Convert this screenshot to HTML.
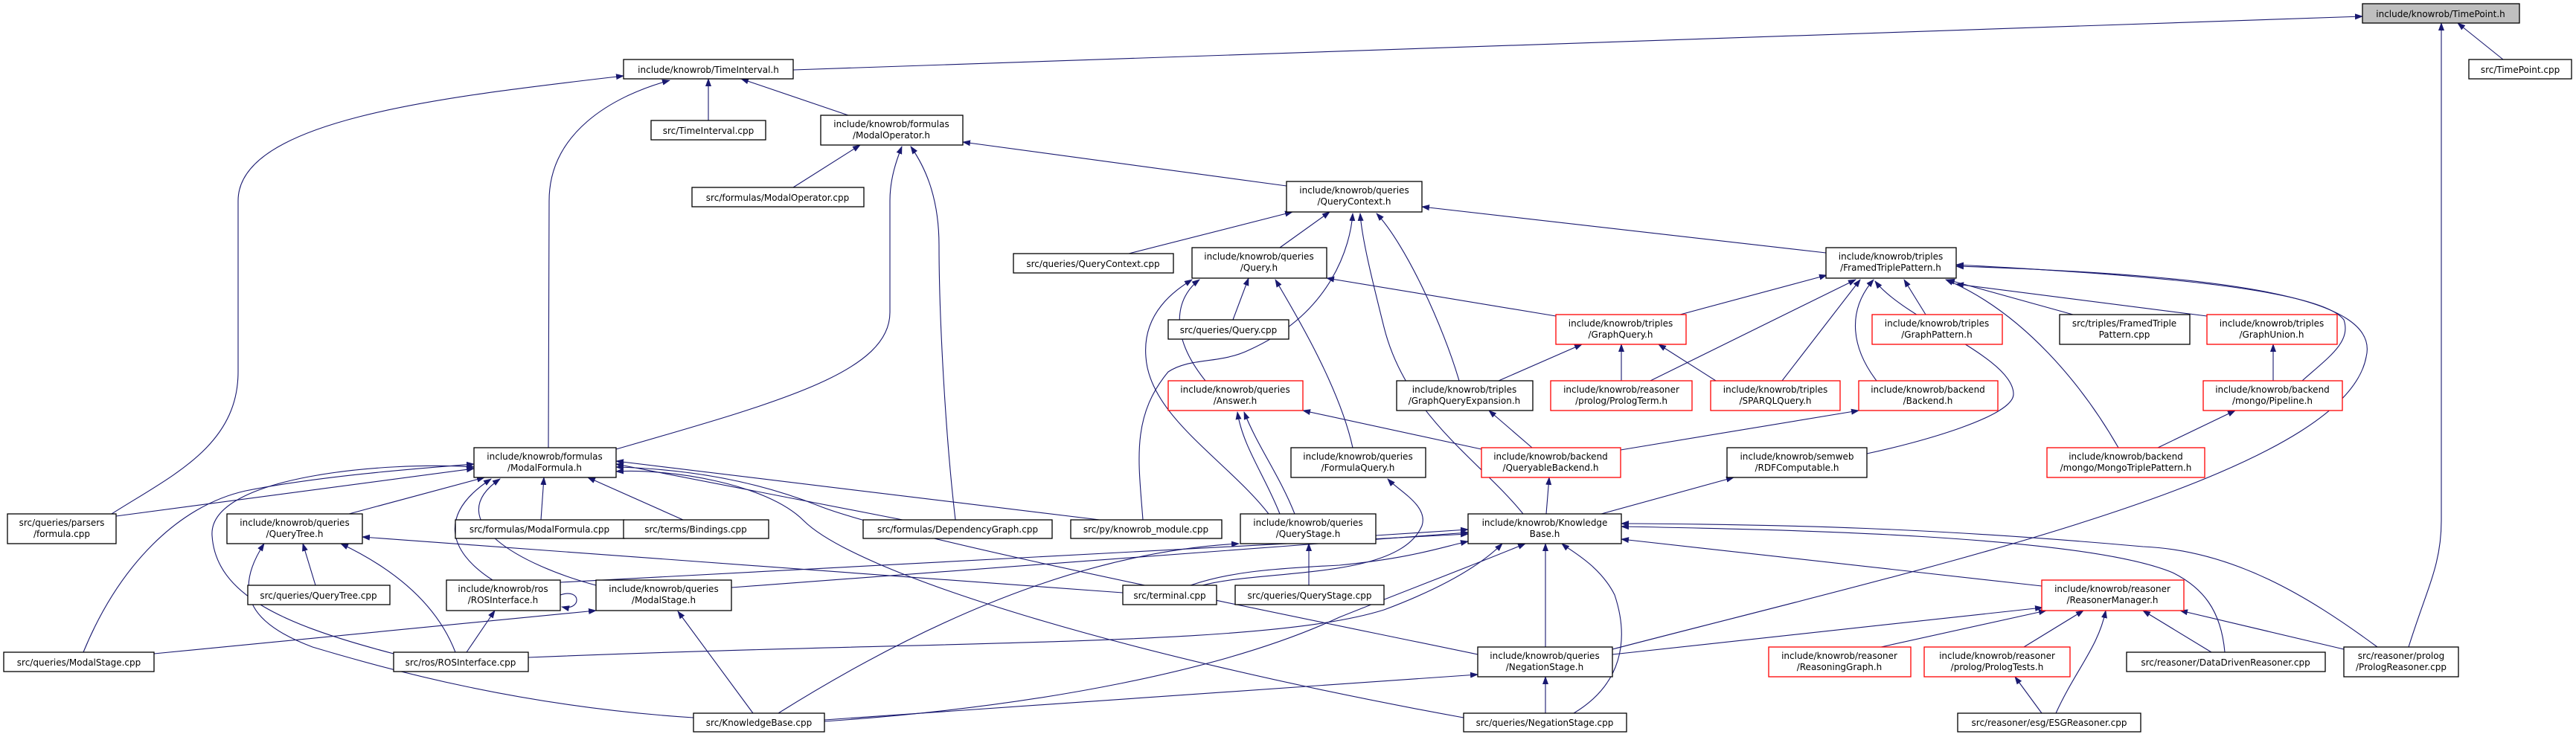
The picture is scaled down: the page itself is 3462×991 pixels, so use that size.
<!DOCTYPE html>
<html><head><meta charset="utf-8"><style>
html,body{margin:0;padding:0;background:#fff}
svg{display:block}
text{font-family:"DejaVu Sans","Liberation Sans",sans-serif;font-size:12px;fill:#000;text-anchor:middle}
.n{fill:#fff;stroke:#000;stroke-width:1.3}
.r{fill:#fff;stroke:#f00;stroke-width:1.3}
.g{fill:#bfbfbf;stroke:#000;stroke-width:1.3}
.e{fill:none;stroke:#191970;stroke-width:1.1}
</style></head><body>
<svg width="3462" height="991" viewBox="0 0 3462 991" xmlns="http://www.w3.org/2000/svg">
<defs><marker id="a" markerUnits="userSpaceOnUse" markerWidth="12" markerHeight="10" refX="10" refY="4" orient="auto"><path d="M0,0 L11,4 L0,8 z" fill="#191970"/></marker></defs>
<g class="e" marker-end="url(#a)">
<path d="M1066,94 L3175,22"/>
<path d="M3364,80 L3303,31"/>
<path d="M3237,870 C3262,790 3281,760 3281,700 L3281,31"/>
<path d="M952,162 L952,106"/>
<path d="M1140,155 L996,106"/>
<path d="M150,691 C230,640 320,600 320,500 L320,270 C320,160 600,130 838,102"/>
<path d="M737,602 L738,270 C738,180 820,130 900,108"/>
<path d="M1066,252 L1156,195"/>
<path d="M1729,250 L1294,191"/>
<path d="M828,604 C1050,540 1196,500 1196,420 L1196,270 C1196,240 1205,215 1212,197"/>
<path d="M1284,699 C1270,580 1262,420 1262,330 C1262,260 1240,220 1224,197"/>
<path d="M1517,341 L1737,285"/>
<path d="M1720,333 L1787,285"/>
<path d="M1536,699 C1530,620 1520,560 1570,500 C1600,480 1640,490 1680,470 C1790,420 1815,330 1818,287"/>
<path d="M2047,691 C1990,620 1890,560 1860,440 C1845,380 1830,320 1828,287"/>
<path d="M1961,512 C1940,440 1890,330 1850,287"/>
<path d="M2454,340 L1911,278"/>
<path d="M1657,430 L1678,374"/>
<path d="M2091,425 L1783,374"/>
<path d="M1705,691 C1650,620 1545,560 1540,480 C1535,420 1580,390 1602,376"/>
<path d="M1620,512 C1570,450 1580,400 1612,376"/>
<path d="M1818,602 C1800,520 1740,420 1714,376"/>
<path d="M2014,512 L2126,463"/>
<path d="M2179,512 L2179,463"/>
<path d="M2306,512 L2229,463"/>
<path d="M2258,423 L2455,370"/>
<path d="M2218,512 L2494,376"/>
<path d="M2395,512 L2500,376"/>
<path d="M2522,512 C2490,470 2480,420 2518,376"/>
<path d="M2588,423 L2559,376"/>
<path d="M2786,423 L2617,376"/>
<path d="M2966,425 L2629,382"/>
<path d="M3094,512 C3130,480 3160,460 3150,430 C3120,390 2900,370 2629,356"/>
<path d="M2167,873 C2600,760 3150,640 3180,480 C3200,400 3000,370 2629,358"/>
<path d="M2847,602 C2800,520 2720,420 2615,376"/>
<path d="M2509,610 C2580,595 2706,560 2706,530 C2706,480 2560,430 2520,378"/>
<path d="M3055,512 L3055,463"/>
<path d="M2900,602 L3004,552"/>
<path d="M1991,604 L1751,552"/>
<path d="M2059,602 L2001,552"/>
<path d="M2178,605 L2498,552"/>
<path d="M2078,691 L2082,642"/>
<path d="M2152,691 L2330,642"/>
<path d="M2077,870 L2077,731"/>
<path d="M2077,959 L2077,910"/>
<path d="M2115,959 C2180,920 2190,860 2170,800 C2150,760 2110,740 2099,731"/>
<path d="M2744,788 L2179,725"/>
<path d="M2990,877 C2985,820 2960,790 2920,770 C2800,720 2400,712 2179,708"/>
<path d="M3195,870 C3100,800 3000,740 2880,735 C2600,710 2400,705 2179,704"/>
<path d="M2528,870 L2750,821"/>
<path d="M2167,880 L2745,817"/>
<path d="M2720,870 L2800,821"/>
<path d="M2763,959 C2790,900 2820,870 2830,821"/>
<path d="M2972,877 L2880,821"/>
<path d="M3150,873 L2930,821"/>
<path d="M2744,959 L2708,910"/>
<path d="M983,790 L1973,716"/>
<path d="M1849,720 L1973,712"/>
<path d="M1600,787 C1650,770 1700,765 1800,760 C1900,750 1940,735 1973,728"/>
<path d="M710,884 C1300,860 1700,870 1860,820 C1940,790 1990,760 2019,731"/>
<path d="M1108,970 C1400,950 1650,900 1800,830 C1900,790 1980,760 2050,731"/>
<path d="M1108,968 L1986,907"/>
<path d="M1046,959 C1300,800 1500,740 1665,731"/>
<path d="M1012,959 L911,822"/>
<path d="M932,965 C700,950 520,900 420,870 C340,840 310,800 355,731"/>
<path d="M753,783 L1973,718"/>
<path d="M627,877 L665,821"/>
<path d="M612,877 C590,820 540,770 458,731"/>
<path d="M529,879 C380,840 290,800 285,720 C280,640 520,620 637,628"/>
<path d="M424,787 L407,731"/>
<path d="M1509,797 L487,722"/>
<path d="M469,691 L651,642"/>
<path d="M156,694 L637,630"/>
<path d="M112,877 C160,760 240,680 330,660 C430,640 560,630 637,624"/>
<path d="M662,780 C600,740 590,690 660,644"/>
<path d="M801,787 C700,760 590,700 672,644"/>
<path d="M727,699 L731,642"/>
<path d="M918,699 L790,642"/>
<path d="M1213,699 L828,624"/>
<path d="M1478,699 L828,620"/>
<path d="M1986,880 C1600,800 1200,720 1100,680 C1000,640 900,630 828,628"/>
<path d="M1967,965 C1500,880 1150,770 1080,700 C1030,650 900,630 828,634"/>
<path d="M207,879 L801,821"/>
<path d="M1759,787 L1759,731"/>
<path d="M1616,787 C1700,765 1880,780 1911,707 C1920,680 1880,660 1865,644"/>
<path d="M1720,691 C1700,640 1670,600 1663,554"/>
<path d="M1740,691 C1720,640 1690,600 1672,554"/>
<path d="M753,800 C782,790 782,822 755,816"/>
</g>
<g>
<rect class="g" x="3175" y="5" width="211" height="26"/><text x="3280" y="23">include/knowrob/TimePoint.h</text>
<rect class="n" x="3318" y="80" width="138" height="26"/><text x="3387" y="98">src/TimePoint.cpp</text>
<rect class="n" x="838" y="80" width="228" height="26"/><text x="952" y="98">include/knowrob/TimeInterval.h</text>
<rect class="n" x="875" y="162" width="154" height="26"/><text x="952" y="180">src/TimeInterval.cpp</text>
<rect class="n" x="1103" y="155" width="191" height="40"/><text x="1198" y="171">include/knowrob/formulas</text><text x="1198" y="186">/ModalOperator.h</text>
<rect class="n" x="930" y="252" width="231" height="26"/><text x="1045" y="270">src/formulas/ModalOperator.cpp</text>
<rect class="n" x="1729" y="244" width="182" height="41"/><text x="1820" y="260">include/knowrob/queries</text><text x="1820" y="275">/QueryContext.h</text>
<rect class="n" x="1362" y="341" width="215" height="26"/><text x="1469" y="359">src/queries/QueryContext.cpp</text>
<rect class="n" x="1602" y="333" width="181" height="41"/><text x="1692" y="349">include/knowrob/queries</text><text x="1692" y="364">/Query.h</text>
<rect class="n" x="1570" y="430" width="162" height="26"/><text x="1651" y="448">src/queries/Query.cpp</text>
<rect class="r" x="2091" y="423" width="175" height="40"/><text x="2178" y="439">include/knowrob/triples</text><text x="2178" y="454">/GraphQuery.h</text>
<rect class="n" x="2454" y="333" width="175" height="41"/><text x="2541" y="349">include/knowrob/triples</text><text x="2541" y="364">/FramedTriplePattern.h</text>
<rect class="r" x="2516" y="423" width="175" height="40"/><text x="2603" y="439">include/knowrob/triples</text><text x="2603" y="454">/GraphPattern.h</text>
<rect class="n" x="2768" y="423" width="175" height="40"/><text x="2855" y="439">src/triples/FramedTriple</text><text x="2855" y="454">Pattern.cpp</text>
<rect class="r" x="2966" y="423" width="175" height="40"/><text x="3053" y="439">include/knowrob/triples</text><text x="3053" y="454">/GraphUnion.h</text>
<rect class="n" x="637" y="602" width="191" height="40"/><text x="732" y="618">include/knowrob/formulas</text><text x="732" y="633">/ModalFormula.h</text>
<rect class="n" x="10" y="691" width="146" height="40"/><text x="83" y="707">src/queries/parsers</text><text x="83" y="722">/formula.cpp</text>
<rect class="n" x="305" y="691" width="182" height="40"/><text x="396" y="707">include/knowrob/queries</text><text x="396" y="722">/QueryTree.h</text>
<rect class="n" x="612" y="699" width="227" height="25"/><text x="725" y="716">src/formulas/ModalFormula.cpp</text>
<rect class="n" x="333" y="787" width="191" height="26"/><text x="428" y="805">src/queries/QueryTree.cpp</text>
<rect class="n" x="600" y="780" width="153" height="41"/><text x="676" y="796">include/knowrob/ros</text><text x="676" y="811">/ROSInterface.h</text>
<rect class="n" x="801" y="780" width="182" height="41"/><text x="892" y="796">include/knowrob/queries</text><text x="892" y="811">/ModalStage.h</text>
<rect class="n" x="5" y="877" width="202" height="26"/><text x="106" y="895">src/queries/ModalStage.cpp</text>
<rect class="n" x="529" y="877" width="181" height="26"/><text x="619" y="895">src/ros/ROSInterface.cpp</text>
<rect class="r" x="1570" y="512" width="181" height="40"/><text x="1660" y="528">include/knowrob/queries</text><text x="1660" y="543">/Answer.h</text>
<rect class="n" x="838" y="699" width="195" height="25"/><text x="935" y="716">src/terms/Bindings.cpp</text>
<rect class="n" x="1160" y="699" width="254" height="25"/><text x="1287" y="716">src/formulas/DependencyGraph.cpp</text>
<rect class="n" x="1439" y="699" width="203" height="25"/><text x="1540" y="716">src/py/knowrob_module.cpp</text>
<rect class="n" x="1667" y="691" width="182" height="40"/><text x="1758" y="707">include/knowrob/queries</text><text x="1758" y="722">/QueryStage.h</text>
<rect class="n" x="1509" y="787" width="126" height="26"/><text x="1572" y="805">src/terminal.cpp</text>
<rect class="n" x="1660" y="787" width="200" height="26"/><text x="1760" y="805">src/queries/QueryStage.cpp</text>
<rect class="n" x="932" y="959" width="176" height="25"/><text x="1020" y="976">src/KnowledgeBase.cpp</text>
<rect class="n" x="1877" y="512" width="183" height="40"/><text x="1968" y="528">include/knowrob/triples</text><text x="1968" y="543">/GraphQueryExpansion.h</text>
<rect class="r" x="2084" y="512" width="190" height="40"/><text x="2179" y="528">include/knowrob/reasoner</text><text x="2179" y="543">/prolog/PrologTerm.h</text>
<rect class="r" x="2299" y="512" width="174" height="40"/><text x="2386" y="528">include/knowrob/triples</text><text x="2386" y="543">/SPARQLQuery.h</text>
<rect class="r" x="2498" y="512" width="187" height="40"/><text x="2591" y="528">include/knowrob/backend</text><text x="2591" y="543">/Backend.h</text>
<rect class="n" x="1735" y="602" width="181" height="40"/><text x="1825" y="618">include/knowrob/queries</text><text x="1825" y="633">/FormulaQuery.h</text>
<rect class="r" x="1991" y="602" width="187" height="40"/><text x="2084" y="618">include/knowrob/backend</text><text x="2084" y="633">/QueryableBackend.h</text>
<rect class="n" x="2321" y="602" width="188" height="40"/><text x="2415" y="618">include/knowrob/semweb</text><text x="2415" y="633">/RDFComputable.h</text>
<rect class="n" x="1973" y="691" width="206" height="40"/><text x="2076" y="707">include/knowrob/Knowledge</text><text x="2076" y="722">Base.h</text>
<rect class="n" x="1986" y="870" width="181" height="40"/><text x="2076" y="886">include/knowrob/queries</text><text x="2076" y="901">/NegationStage.h</text>
<rect class="r" x="2377" y="870" width="191" height="40"/><text x="2472" y="886">include/knowrob/reasoner</text><text x="2472" y="901">/ReasoningGraph.h</text>
<rect class="n" x="1967" y="959" width="219" height="25"/><text x="2076" y="976">src/queries/NegationStage.cpp</text>
<rect class="r" x="2961" y="512" width="187" height="40"/><text x="3054" y="528">include/knowrob/backend</text><text x="3054" y="543">/mongo/Pipeline.h</text>
<rect class="r" x="2751" y="602" width="212" height="40"/><text x="2857" y="618">include/knowrob/backend</text><text x="2857" y="633">/mongo/MongoTriplePattern.h</text>
<rect class="r" x="2744" y="780" width="191" height="41"/><text x="2839" y="796">include/knowrob/reasoner</text><text x="2839" y="811">/ReasonerManager.h</text>
<rect class="r" x="2586" y="870" width="196" height="40"/><text x="2684" y="886">include/knowrob/reasoner</text><text x="2684" y="901">/prolog/PrologTests.h</text>
<rect class="n" x="2858" y="877" width="267" height="26"/><text x="2991" y="895">src/reasoner/DataDrivenReasoner.cpp</text>
<rect class="n" x="3150" y="870" width="154" height="40"/><text x="3227" y="886">src/reasoner/prolog</text><text x="3227" y="901">/PrologReasoner.cpp</text>
<rect class="n" x="2631" y="959" width="246" height="25"/><text x="2754" y="976">src/reasoner/esg/ESGReasoner.cpp</text>
</g>
</svg>
</body></html>
